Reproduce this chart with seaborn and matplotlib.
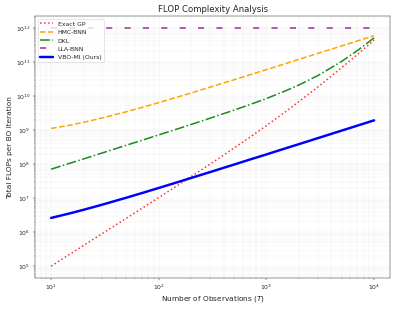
"""
flop_complexity.py
FLOP complexity of each BO surrogate vs. number of observations
"""

import matplotlib
matplotlib.use('Agg')
import pandas as pd
import matplotlib.pyplot as plt
import seaborn as sns

sns.set_style('white')
plt.rcParams['font.family'] = ['DejaVu Sans']

# Values
n_obs = [10, 15, 20, 30, 50, 70, 100, 150, 200, 300, 500, 700,
         1000, 1500, 2000, 3000, 5000, 7000, 10000]
exact_gp = [1.0e5, 2.26e5, 4.03e5, 9.1e5, 2.54e6, 5.0e6, 1.03e7, 2.36e7, 4.27e7, 9.9e7,
            2.92e8, 6.04e8, 1.33e9, 3.38e9, 6.7e9, 1.8e10, 6.7e10, 1.63e11, 4.3e11]
hmc_bnn = [1.1e9, 1.37e9, 1.66e9, 2.24e9, 3.4e9, 4.56e9, 6.3e9, 9.2e9, 1.21e10, 1.79e10,
           2.95e10, 4.11e10, 5.85e10, 8.75e10, 1.17e11, 1.75e11, 2.9e11, 4.07e11, 5.8e11]
dkl = [7.0e7, 1.05e8, 1.4e8, 2.11e8, 3.53e8, 4.95e8, 7.1e8, 1.07e9, 1.44e9, 2.2e9,
       3.79e9, 5.5e9, 8.3e9, 1.39e10, 2.07e10, 3.9e10, 1.02e11, 2.12e11, 5.0e11]
lla_bnn = [1e12, 1e12, 1e12, 1e12, 1e12, 1e12, 1e12, 1e12, 1e12, 1e12,
           1e12, 1e12, 1e12, 1e12, 1e12, 1e12, 1e12, 1e12, 1e12]
vbo_mi = [2.6e6, 3.55e6, 4.5e6, 6.4e6, 1.02e7, 1.4e7, 1.97e7, 2.92e7, 3.87e7, 5.77e7,
          9.57e7, 1.34e8, 1.9e8, 2.86e8, 3.8e8, 5.7e8, 9.5e8, 1.33e9, 1.9e9]

methods = ['Exact GP', 'HMC-BNN', 'DKL', 'LLA-BNN', 'VBO-MI (Ours)']
flops = [exact_gp, hmc_bnn, dkl, lla_bnn, vbo_mi]

df = pd.concat([pd.DataFrame({'T': n_obs, 'flops': f, 'method': m})
                for m, f in zip(methods, flops)], ignore_index=True)

styles = {
    'Exact GP': dict(color='red', linestyle=':', linewidth=2.5, alpha=0.8),
    'HMC-BNN': dict(color='orange', linestyle='--', linewidth=2.5),
    'DKL': dict(color='green', linestyle='-.', linewidth=2.5, alpha=0.9),
    'LLA-BNN': dict(color='purple', linestyle=(0, (4, 8)), linewidth=2.5, alpha=0.8),
    'VBO-MI (Ours)': dict(color='blue', linestyle='-', linewidth=4),
}

dpi = 44.1
fig, ax = plt.subplots(figsize=(397.4 / dpi, 309.4 / dpi), dpi=dpi)
for m in methods:
    sns.lineplot(data=df[df['method'] == m], x='T', y='flops', ax=ax,
                 label=m, **styles[m])

ax.set_xscale('log')
ax.set_yscale('log')
ax.grid(True, which='both', alpha=0.3)
for s in ax.spines.values():
    s.set_color('#333333')
ax.tick_params(which='both', direction='out', left=True, bottom=True)
ax.set_title('FLOP Complexity Analysis', fontsize=14)
ax.set_xlabel('Number of Observations ($T$)', fontsize=12)
ax.set_ylabel('Total FLOPs per BO Iteration', fontsize=12)
ax.legend(loc='upper left', fontsize=10)

plt.subplots_adjust(left=0.088, right=0.982, top=0.948, bottom=0.100)
plt.savefig('out.png', dpi=dpi)
plt.close()
